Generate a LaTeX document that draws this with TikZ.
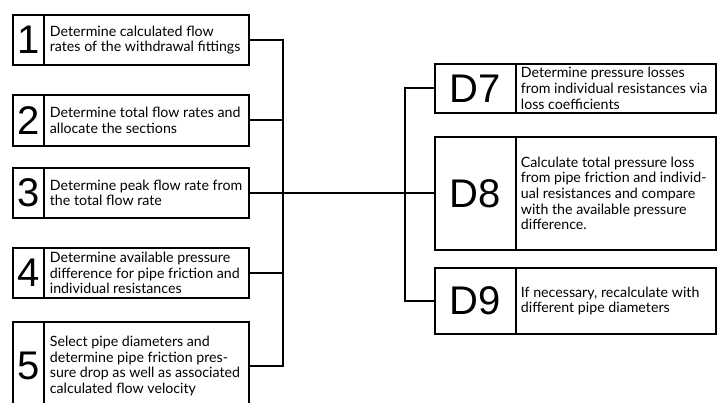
\documentclass[tikz,border=0pt]{standalone}
\usepackage{fontspec}
\setmainfont{Lato}
\newfontfamily\numfont{Liberation Sans}
\begin{document}
\begin{tikzpicture}[x=1pt,y=-1pt,
  line width=1.8pt,
  numbox/.style={draw, anchor=north west, inner sep=0pt, minimum width=31pt,
    font=\numfont\fontsize{40}{40}\selectfont},
  rnumbox/.style={numbox, minimum width=81pt},
  txtbox/.style={draw, anchor=north west, inner sep=0pt, minimum width=205pt},
  rtxtbox/.style={txtbox, minimum width=200pt},
  label/.style={anchor=west, inner sep=0pt, align=left,
    font=\fontsize{14.2}{15.6}\selectfont}
]
\clip (0,0) rectangle (717,403);
\fill[white] (0,0) rectangle (717,403);
% left boxes
\node[numbox, minimum height=50pt] (n1) at (12,14) {1};
\node[txtbox, minimum height=50pt] (t1) at (43,14) {};
\node[label] (l1) at ([xshift=6pt]t1.west) {Determine calculated flow\\rates of the withdrawal fittings};
\node[numbox, minimum height=51pt] (n2) at (12,94) {2};
\node[txtbox, minimum height=51pt] (t2) at (43,94) {};
\node[label] (l2) at ([xshift=6pt]t2.west) {Determine total flow rates and\\allocate the sections};
\node[numbox, minimum height=50pt] (n3) at (12,167) {3};
\node[txtbox, minimum height=50pt] (t3) at (43,167) {};
\node[label] (l3) at ([xshift=6pt]t3.west) {Determine peak flow rate from\\the total flow rate};
\node[numbox, minimum height=50pt] (n4) at (12,247) {4};
\node[txtbox, minimum height=50pt] (t4) at (43,247) {};
\node[label] (l4) at ([xshift=6pt]t4.west) {Determine available pressure\\difference for pipe friction and\\individual resistances};
\node[numbox, minimum height=88pt] (n5) at (12,321) {5};
\node[txtbox, minimum height=88pt] (t5) at (43,321) {};
\node[label] (l5) at ([xshift=6pt]t5.west) {Select pipe diameters and\\determine pipe friction pres-\\sure drop as well as associated\\calculated flow velocity};
% right boxes
\node[rnumbox, minimum height=49pt] (n7) at (434,63) {D7};
\node[rtxtbox, minimum height=49pt] (t7) at (515,63) {};
\node[label] (l7) at ([xshift=5pt]t7.west) {Determine pressure losses\\from individual resistances via\\loss coefficients};
\node[rnumbox, minimum height=113pt] (n8) at (434,136) {D8};
\node[rtxtbox, minimum height=113pt] (t8) at (515,136) {};
\node[label] (l8) at ([xshift=5pt]t8.west) {Calculate total pressure loss\\from pipe friction and individ-\\ual resistances and compare\\with the available pressure\\difference.};
\node[rnumbox, minimum height=66pt] (n9) at (434,267) {D9};
\node[rtxtbox, minimum height=66pt] (t9) at (515,267) {};
\node[label] (l9) at ([xshift=5pt]t9.west) {If necessary, recalculate with\\different pipe diameters};
% connectors
\coordinate (jl) at (283,192);
\coordinate (jr) at (405,192);
\draw (t1.east) -| (jl |- n5.east) -- (t5.east |- n5.east);
\draw (t2.east) -- (t2.east -| jl);
\draw (t3.east) -- (t3.east -| jr);
\draw (t4.east) -- (t4.east -| jl);
\draw (n7.west) -| (jr |- n9.west) -- (n9.west);
\draw (n8.west) -- (n8.west -| jr);
\end{tikzpicture}
\end{document}
